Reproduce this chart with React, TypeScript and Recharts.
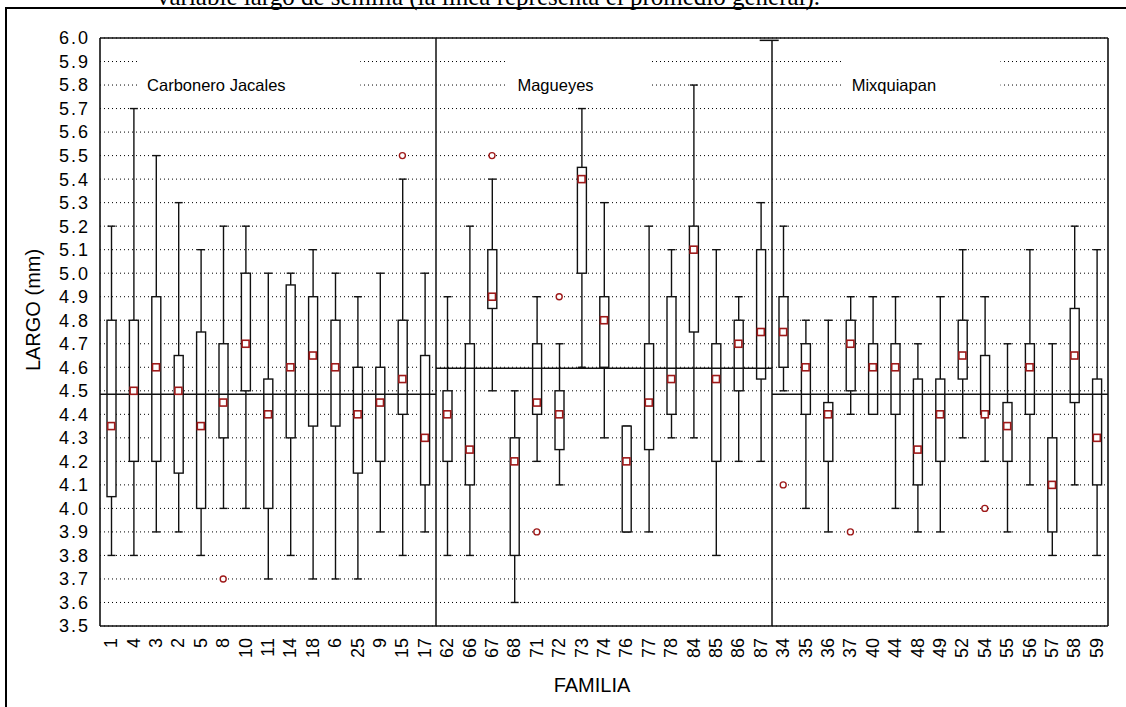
import React from "react";
import {
  ComposedChart,
  Bar,
  Line,
  XAxis,
  YAxis,
  CartesianGrid,
  ReferenceLine,
  ReferenceArea,
  Label,
} from "recharts";

// familias, in the order they appear on the axis
const categories = [
  "1", "4", "3", "2", "5", "8", "10", "11", "14", "18", "6", "25", "9", "15", "17",
  "62", "66", "67", "68", "71", "72", "73", "74", "76", "77", "78", "84", "85", "86", "87",
  "34", "35", "36", "37", "40", "44", "48", "49", "52", "54", "55", "56", "57", "58", "59",
];

const whiskerLow = [
  3.8, 3.8, 3.9, 3.9, 3.8, 4.0, 4.0, 3.7, 3.8, 3.7, 3.7, 3.7, 3.9, 3.8, 3.9,
  3.8, 3.8, 4.5, 3.6, 4.2, 4.1, 4.6, 4.3, 3.9, 3.9, 4.3, 4.3, 3.8, 4.2, 4.2,
  4.5, 4.0, 3.9, 4.4, 4.4, 4.0, 3.9, 3.9, 4.3, 4.2, 3.9, 4.1, 3.8, 4.1, 3.8,
];
const boxLow = [
  4.05, 4.2, 4.2, 4.15, 4.0, 4.3, 4.5, 4.0, 4.3, 4.35, 4.35, 4.15, 4.2, 4.4, 4.1,
  4.2, 4.1, 4.85, 3.8, 4.4, 4.25, 5.0, 4.6, 3.9, 4.25, 4.4, 4.75, 4.2, 4.5, 4.55,
  4.6, 4.4, 4.2, 4.5, 4.4, 4.4, 4.1, 4.2, 4.55, 4.4, 4.2, 4.4, 3.9, 4.45, 4.1,
];
const medians = [
  4.35, 4.5, 4.6, 4.5, 4.35, 4.45, 4.7, 4.4, 4.6, 4.65, 4.6, 4.4, 4.45, 4.55, 4.3,
  4.4, 4.25, 4.9, 4.2, 4.45, 4.4, 5.4, 4.8, 4.2, 4.45, 4.55, 5.1, 4.55, 4.7, 4.75,
  4.75, 4.6, 4.4, 4.7, 4.6, 4.6, 4.25, 4.4, 4.65, 4.4, 4.35, 4.6, 4.1, 4.65, 4.3,
];
const boxHigh = [
  4.8, 4.8, 4.9, 4.65, 4.75, 4.7, 5.0, 4.55, 4.95, 4.9, 4.8, 4.6, 4.6, 4.8, 4.65,
  4.5, 4.7, 5.1, 4.3, 4.7, 4.5, 5.45, 4.9, 4.35, 4.7, 4.9, 5.2, 4.7, 4.8, 5.1,
  4.9, 4.7, 4.45, 4.8, 4.7, 4.7, 4.55, 4.55, 4.8, 4.65, 4.45, 4.7, 4.3, 4.85, 4.55,
];
const whiskerHigh = [
  5.2, 5.7, 5.5, 5.3, 5.1, 5.2, 5.2, 5.0, 5.0, 5.1, 5.0, 4.9, 5.0, 5.4, 5.0,
  4.9, 5.2, 5.4, 4.5, 4.9, 4.7, 5.7, 5.3, 4.35, 5.2, 5.1, 5.8, 5.1, 4.9, 5.3,
  5.2, 4.8, 4.8, 4.9, 4.9, 4.9, 4.7, 4.9, 5.1, 4.9, 4.7, 5.1, 4.7, 5.2, 5.1,
];
const outliers: (number | null)[] = [
  null, null, null, null, null, 3.7, null, null, null, null, null, null, null, 5.5, null,
  null, null, 5.5, null, 3.9, 4.9, null, null, null, null, null, null, null, null, null,
  4.1, null, null, 3.9, null, null, null, null, null, 4.0, null, null, null, null, null,
];

const groups = ["Carbonero Jacales", "Magueyes", "Mixquiapan"];
const groupMeans = [4.485, 4.596, 4.485];

const yTicks = [
  3.5, 3.6, 3.7, 3.8, 3.9, 4.0, 4.1, 4.2, 4.3, 4.4, 4.5, 4.6, 4.7,
  4.8, 4.9, 5.0, 5.1, 5.2, 5.3, 5.4, 5.5, 5.6, 5.7, 5.8, 5.9, 6.0,
];

const data = categories.map((c, i) => ({
  familia: c,
  slot: i + 0.5,
  min: whiskerLow[i],
  q1: boxLow[i],
  median: medians[i],
  q3: boxHigh[i],
  max: whiskerHigh[i],
  outlier: outliers[i],
  range: [whiskerLow[i], whiskerHigh[i]],
}));

const perGroup = categories.length / groups.length;
const boundaryTicks = [...categories.map((_, i) => i), categories.length];

const FONT = '"Liberation Sans", Arial, sans-serif';
const INK = "#111";
const RED = "#9e1a1a";

// where the white label boxes sit, in category-slot units
const labelBoxes = [
  { x1: 1.7, x2: 11.62, pad: 9 },
  { x1: 18.19, x2: 24.58, pad: 10 },
  { x1: 33.2, x2: 40.2, pad: 8 },
];
const BOX_TOP = 5.96;
const BOX_BOTTOM = 5.72;
const LABEL_AT = 5.8;

function BoxShape(props: any) {
  const { x, y, width, height, payload } = props;
  const [lo, hi] = payload.range;
  const toY = (v: number) => y + ((hi - v) / (hi - lo)) * height;
  const cx = x + width / 2;
  const yMax = toY(payload.max);
  const yMin = toY(payload.min);
  const yQ3 = toY(payload.q3);
  const yQ1 = toY(payload.q1);
  const cap = width / 2 - 0.5;
  return (
    <g stroke={INK} strokeWidth={1.4} fill="none">
      <line x1={cx} x2={cx} y1={yMax} y2={yQ3} />
      <line x1={cx} x2={cx} y1={yQ1} y2={yMin} />
      <line x1={cx - cap} x2={cx + cap} y1={yMax} y2={yMax} />
      <line x1={cx - cap} x2={cx + cap} y1={yMin} y2={yMin} />
      <rect x={x} y={yQ3} width={width} height={yQ1 - yQ3} fill="#fff" />
    </g>
  );
}

function MedianDot(props: any) {
  const { cx, cy, index } = props;
  if (cy == null || cx == null) return <g key={`m${index}`} />;
  return (
    <rect
      key={`m${index}`}
      x={cx - 3.5}
      y={cy - 3.5}
      width={7}
      height={7}
      fill="#fff"
      stroke={RED}
      strokeWidth={1.6}
    />
  );
}

function OutlierDot(props: any) {
  const { cx, cy, index, value } = props;
  if (value == null || cy == null) return <g key={`o${index}`} />;
  return <circle key={`o${index}`} cx={cx} cy={cy} r={3} fill="#fff" stroke={RED} strokeWidth={1.4} />;
}

function CatTick(props: any) {
  const { x, y, payload } = props;
  return (
    <text
      x={x}
      y={y}
      transform={`rotate(-90 ${x} ${y})`}
      textAnchor="end"
      dominantBaseline="central"
      fontSize={18}
      fontFamily={FONT}
      fill="#000"
    >
      {payload.value}
    </text>
  );
}

function groupLabel(text: string, pad: number) {
  return (props: any) => {
    const vb = props.viewBox;
    const ty = vb.y + (vb.height * (BOX_TOP - LABEL_AT)) / (BOX_TOP - BOX_BOTTOM);
    return (
      <text
        x={vb.x + pad}
        y={ty}
        dominantBaseline="central"
        fontSize={16.5}
        fontFamily={FONT}
        fill="#000"
      >
        {text}
      </text>
    );
  };
}

export default function App() {
  return (
    <div style={{ position: "relative", width: 1126, height: 707, overflow: "hidden", background: "#fff" }}>
      <style>{`body{margin:0}`}</style>
      <svg width={1126} height={12} style={{ position: "absolute", left: 0, top: 0 }}>
        <text x={157} y={5} fontSize={25} fontFamily='"Liberation Serif", "Times New Roman", serif' fill="#000">
          variable largo de semilla (la línea representa el promedio general).
        </text>
      </svg>
      <div
        style={{
          position: "absolute",
          left: 5,
          top: 7,
          width: 1150,
          height: 730,
          border: "2px solid #000",
        }}
      />
      <div style={{ position: "absolute", left: 0, top: 0 }}>
        <ComposedChart
          width={1126}
          height={707}
          data={data}
          margin={{ top: 38, right: 18, bottom: 0, left: 0 }}
        >
          <CartesianGrid
            vertical={false}
            stroke="#000"
            strokeDasharray="1 3"
            strokeWidth={1}
          />
          <XAxis
            xAxisId="num"
            dataKey="slot"
            type="number"
            domain={[0, categories.length]}
            allowDataOverflow
            ticks={boundaryTicks}
            orientation="bottom"
            height={1}
            mirror
            tick={false}
            tickSize={5}
            axisLine={{ stroke: INK, strokeWidth: 1.6 }}
            tickLine={{ stroke: INK }}
          />
          <XAxis
            xAxisId="top"
            dataKey="slot"
            type="number"
            domain={[0, categories.length]}
            allowDataOverflow
            ticks={boundaryTicks}
            orientation="top"
            height={1}
            mirror
            tick={false}
            tickSize={5}
            axisLine={{ stroke: INK, strokeWidth: 1.6 }}
            tickLine={{ stroke: INK }}
          />
          <XAxis
            xAxisId="cat"
            dataKey="familia"
            type="category"
            interval={0}
            height={81}
            axisLine={false}
            tickLine={false}
            tickSize={0}
            tickMargin={12}
            tick={<CatTick />}
          >
            <Label
              value="FAMILIA"
              position="insideBottom"
              offset={15}
              dx={-12}
              fontSize={20}
              fontFamily={FONT}
              fill="#000"
            />
          </XAxis>
          <YAxis
            domain={[3.5, 6.0]}
            ticks={yTicks}
            type="number"
            width={100}
            interval={0}
            tickFormatter={(v: number) => v.toFixed(1)}
            tick={{ fontSize: 18, fontFamily: FONT, fill: "#000", letterSpacing: 2 }}
            tickLine={false}
            tickSize={6}
            tickMargin={4}
            axisLine={{ stroke: INK, strokeWidth: 1.6 }}
            allowDataOverflow
          >
            <Label
              value="LARGO (mm)"
              angle={-90}
              position="insideLeft"
              offset={33}
              dy={-22}
              fontSize={20}
              fontFamily={FONT}
              fill="#000"
              style={{ textAnchor: "middle" }}
            />
          </YAxis>
          <YAxis
            yAxisId="right"
            orientation="right"
            domain={[3.5, 6.0]}
            allowDataOverflow
            ticks={yTicks}
            type="number"
            width={1}
            mirror
            tick={false}
            tickSize={4}
            axisLine={{ stroke: INK, strokeWidth: 1.6 }}
            tickLine={{ stroke: INK }}
          />

          {labelBoxes.map((b, i) => (
            <ReferenceArea
              key={groups[i]}
              xAxisId="num"
              x1={b.x1}
              x2={b.x2}
              y1={BOX_BOTTOM}
              y2={BOX_TOP}
              fill="#fff"
              fillOpacity={1}
              stroke="none"
              label={groupLabel(groups[i], b.pad)}
            />
          ))}

          {groupMeans.map((m, i) => (
            <ReferenceLine
              key={`mean${i}`}
              xAxisId="num"
              segment={[
                { x: i * perGroup, y: m },
                { x: (i + 1) * perGroup, y: m },
              ]}
              stroke={INK}
              strokeWidth={1.5}
            />
          ))}
          <ReferenceLine xAxisId="num" x={perGroup} stroke={INK} strokeWidth={1.5} />
          <ReferenceLine
            xAxisId="num"
            segment={[
              { x: 2 * perGroup, y: 3.5 },
              { x: 2 * perGroup, y: 5.99 },
            ]}
            stroke={INK}
            strokeWidth={1.5}
          />
          <ReferenceLine
            xAxisId="num"
            segment={[
              { x: 2 * perGroup - 0.55, y: 5.99 },
              { x: 2 * perGroup + 0.3, y: 5.99 },
            ]}
            stroke={INK}
            strokeWidth={1.5}
          />

          <Bar
            xAxisId="cat"
            dataKey="range"
            barSize={9}
            shape={<BoxShape />}
            isAnimationActive={false}
          />
          <Line
            xAxisId="cat"
            dataKey="outlier"
            stroke="none"
            dot={OutlierDot}
            activeDot={false}
            isAnimationActive={false}
          />
          <Line
            xAxisId="cat"
            dataKey="median"
            stroke="none"
            dot={MedianDot}
            activeDot={false}
            isAnimationActive={false}
          />
        </ComposedChart>
      </div>
    </div>
  );
}
